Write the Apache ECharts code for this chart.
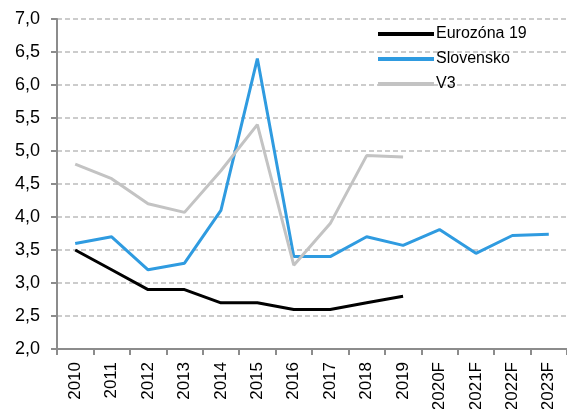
<!DOCTYPE html>
<html>
<head>
<meta charset="utf-8">
<script src="https://cdn.jsdelivr.net/npm/echarts@6/dist/echarts.min.js"></script>
<style>
  html, body { margin: 0; padding: 0; background: #fff; }
  #chart { width: 567px; height: 409px; }
</style>
</head>
<body>
<div id="chart"></div>
<script>
const years = ['2010', '2011', '2012', '2013', '2014', '2015', '2016', '2017', '2018', '2019', '2020F', '2021F', '2022F', '2023F'];
const eurozona = [3.5, 3.2, 2.9, 2.9, 2.7, 2.7, 2.6, 2.6, 2.7, 2.8];
const slovensko = [3.6, 3.7, 3.2, 3.3, 4.1, 6.4, 3.4, 3.4, 3.7, 3.57, 3.81, 3.45, 3.72, 3.74];
const v3 = [4.8, 4.58, 4.2, 4.07, 4.7, 5.4, 3.27, 3.9, 4.93, 4.91];

const chart = echarts.init(document.getElementById('chart'));

const font = 'Liberation Sans, Arial, sans-serif';

chart.setOption({
  animation: false,
  textStyle: { fontFamily: font },
  grid: { left: 57, right: 0, top: 19, bottom: 60, outerBoundsMode: 'none', containLabel: false },
  legend: {
    orient: 'vertical',
    left: 373,
    top: 21,
    itemGap: 9,
    itemWidth: 56,
    itemHeight: 4,
    icon: 'rect',
    textStyle: { fontSize: 16, color: '#000', fontFamily: font, padding: [0, 0, 0, -3] },
    data: ['Eurozóna 19', 'Slovensko', 'V3']
  },
  xAxis: {
    type: 'category',
    data: years,
    boundaryGap: true,
    axisLine: { lineStyle: { color: '#8c8c8c', width: 2 } },
    axisTick: { show: true, length: 6, lineStyle: { color: '#8c8c8c', width: 2 } },
    axisLabel: { rotate: 90, fontSize: 17, color: '#000', margin: 13, fontFamily: font }
  },
  yAxis: {
    type: 'value',
    min: 2,
    max: 7,
    interval: 0.5,
    axisLine: { show: true, lineStyle: { color: '#8c8c8c', width: 2 } },
    axisTick: { show: true, length: 6, lineStyle: { color: '#8c8c8c', width: 2 } },
    axisLabel: {
      fontSize: 18, color: '#000', margin: 17, fontFamily: font,
      formatter: v => v.toFixed(1).replace('.', ',')
    },
    splitLine: { show: true, lineStyle: { color: '#bcbcbc', width: 1.5, type: [5, 3] } }
  },
  series: [
    {
      name: 'Eurozóna 19',
      type: 'line',
      data: eurozona,
      symbol: 'none',
      color: '#000000',
      lineStyle: { width: 3, color: '#000000' }
    },
    {
      name: 'Slovensko',
      type: 'line',
      data: slovensko,
      symbol: 'none',
      color: '#2f9be0',
      lineStyle: { width: 3, color: '#2f9be0' }
    },
    {
      name: 'V3',
      type: 'line',
      data: v3,
      symbol: 'none',
      color: '#c3c3c3',
      lineStyle: { width: 3, color: '#c3c3c3' }
    }
  ]
});
</script>
</body>
</html>
